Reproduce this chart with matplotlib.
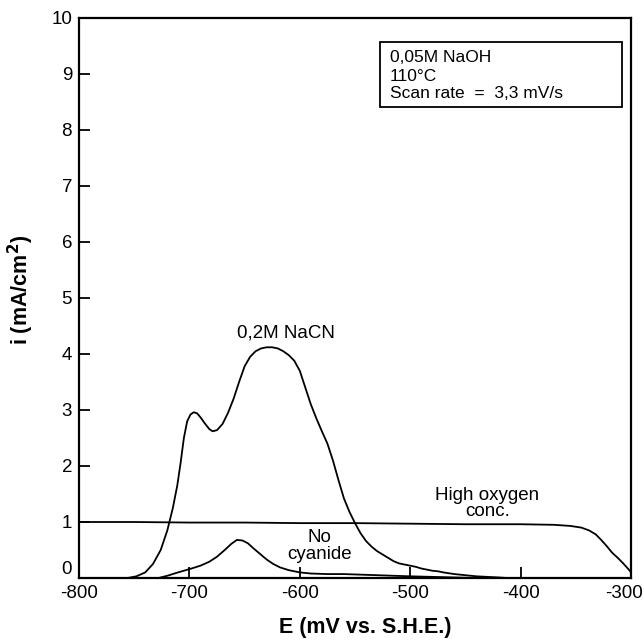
import matplotlib
matplotlib.use("Agg")
import matplotlib.pyplot as plt
import matplotlib.transforms as mtransforms
from matplotlib.patches import Rectangle

plt.rcParams['font.family'] = ['Liberation Sans', 'DejaVu Sans']

# 0.2M NaCN curve
nacn_E = [-756, -748, -740, -733, -726, -720, -715, -711, -708, -705, -702, -699, -696, -693,
          -690, -686, -682, -679, -675, -670, -665, -660, -655, -650, -645, -640, -635, -630,
          -625, -620, -615, -610, -605, -600, -595, -590, -585, -580, -575, -570, -565, -560,
          -555, -550, -545, -540, -535, -530, -525, -520, -515, -510, -505, -500, -495, -490,
          -485, -480, -475, -470, -460, -450, -440, -430, -420, -412]
nacn_i = [0.0, 0.03, 0.10, 0.25, 0.50, 0.85, 1.25, 1.65, 2.05, 2.50, 2.80, 2.92, 2.96, 2.94,
          2.87, 2.76, 2.66, 2.62, 2.64, 2.75, 2.95, 3.20, 3.50, 3.78, 3.95, 4.05, 4.10, 4.12,
          4.12, 4.10, 4.05, 3.98, 3.88, 3.70, 3.40, 3.10, 2.85, 2.62, 2.40, 2.10, 1.75, 1.42,
          1.18, 0.98, 0.80, 0.66, 0.56, 0.48, 0.42, 0.36, 0.30, 0.26, 0.24, 0.22, 0.20, 0.17,
          0.15, 0.13, 0.12, 0.10, 0.07, 0.05, 0.03, 0.02, 0.01, 0.0]

# High oxygen concentration curve
oxy_E = [-800, -750, -700, -650, -600, -550, -500, -450, -400, -370, -355, -345, -338, -332,
         -327, -322, -317, -312, -307, -302, -300]
oxy_i = [1.00, 1.00, 0.99, 0.99, 0.98, 0.98, 0.97, 0.96, 0.96, 0.95, 0.93, 0.90, 0.85, 0.78,
         0.68, 0.57, 0.45, 0.36, 0.26, 0.15, 0.10]

# No cyanide curve
noc_E = [-728, -720, -712, -705, -698, -690, -682, -675, -668, -662, -657, -652, -647, -642,
         -636, -630, -624, -618, -610, -600, -590, -575, -560, -545, -530, -515, -500, -480, -460, -440]
noc_i = [0.0, 0.04, 0.09, 0.13, 0.17, 0.22, 0.29, 0.38, 0.50, 0.61, 0.68, 0.67, 0.62, 0.53,
         0.43, 0.33, 0.25, 0.19, 0.14, 0.10, 0.08, 0.07, 0.07, 0.06, 0.05, 0.04, 0.03, 0.02, 0.01, 0.0]

x_ticks = [-800, -700, -600, -500, -400, -300]
y_ticks = list(range(0, 11))
box_lines = ['0,05M NaOH', '110\u00b0C', 'Scan rate  =  3,3 mV/s']

fig = plt.figure(figsize=(6.44, 6.40), dpi=100)
ax = fig.add_axes([79/644, 62/640, (631-79)/644, (578-18)/640])

lw = 1.3
ax.plot(nacn_E, nacn_i, color='black', lw=lw)
ax.plot(oxy_E, oxy_i, color='black', lw=lw)
ax.plot(noc_E, noc_i, color='black', lw=lw)

ax.set_xlim(-800, -300)
ax.set_ylim(0, 10)
ax.set_xticks(x_ticks)
ax.set_xticklabels([str(t) for t in x_ticks])
ax.set_yticks(y_ticks)
ax.set_yticklabels([str(t) for t in y_ticks])
ax.tick_params(direction='in', length=8, width=1.3, labelsize=13.5, pad=5)
ax.get_yticklabels()[0].set_va('bottom')
last = ax.get_xticklabels()[-1]
last.set_transform(last.get_transform() +
                   mtransforms.ScaledTranslation(-7/100, 0, fig.dpi_scale_trans))
for s in ax.spines.values():
    s.set_linewidth(1.6)

ax.set_xlabel('E (mV vs. S.H.E.)', fontsize=15.5, fontweight='bold', va='center')
ax.xaxis.set_label_coords(0.518, -49/560)
ax.set_ylabel('i (mA/cm$^\\mathbf{2}$)', fontsize=15.5, fontweight='bold', va='center')
ax.yaxis.set_label_coords(-58/552, (578-290)/560)

ax.text(-613, 4.375, '0,2M NaCN', ha='center', va='center', fontsize=13.5)
ax.text(-430, 1.33, 'High oxygen\nconc.', ha='center', va='center', fontsize=13.5, linespacing=0.95)
ax.text(-582, 0.57, 'No\ncyanide', ha='center', va='center', fontsize=13.5, linespacing=0.95)

ax.add_patch(Rectangle((-527.4, 8.41), 219.2, 1.16, facecolor='white', edgecolor='black',
                       linewidth=1.3, zorder=3))
for line, yy in zip(box_lines, [9.21, 8.88, 8.58]):
    ax.text(-518.3, yy, line, ha='left', va='baseline', fontsize=12.5, zorder=4)

fig.savefig('out.png', dpi=100)
